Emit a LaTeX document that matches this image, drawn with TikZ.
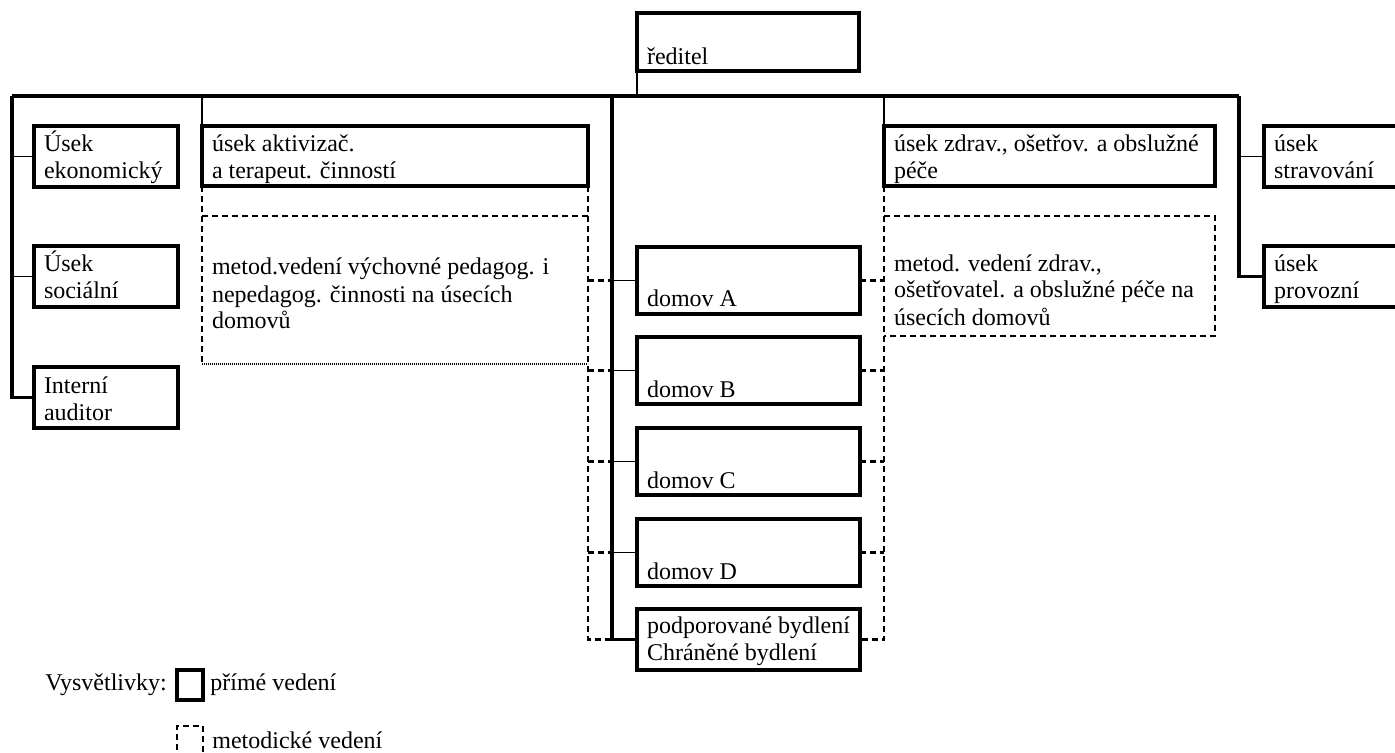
\documentclass[tikz,border=0pt]{standalone}
\usepackage{fontspec}
\setmainfont{Liberation Serif}
\usetikzlibrary{positioning}

% text set at the top or at the bottom of a box
\newcommand{\toptext}[4][13pt]{\parbox[c][#3][t]{#2}{\raggedright\rule{0pt}{#1}#4}}
\newcommand{\bottext}[4][3.5pt]{\parbox[c][#3][b]{#2}{\raggedright#4\rule[-#1]{0pt}{#1}}}

\begin{document}
\begin{tikzpicture}[x=0.5pt,y=-0.5pt,
	font=\fontsize{12}{13.5}\selectfont,
	box/.style={draw, line width=1.6pt, inner xsep=5pt, inner ysep=0pt, outer sep=0pt, anchor=north west},
	area/.style={box, draw=none},
	txt/.style={inner sep=0pt, anchor=base west},
	direct/.style={line width=1.6pt},
	link/.style={line width=0.8pt},
	method/.style={line width=1.2pt, dash pattern=on 3pt off 2pt},
	dotline/.style={line width=1.2pt, dash pattern=on 0.6pt off 0.4pt}]
	\useasboundingbox (0,0) rectangle (1395,753);
	
	\node[box] (red) at (637,13) {\bottext[3pt]{101pt}{26pt}{ředitel}};
	
	\node[box] (ekon) at (34,126) {\toptext{62pt}{30.5pt}{Úsek\\ekonomický}};
	\node[box] (soc) at (34,246) {\toptext{62pt}{30.5pt}{Úsek\\sociální}};
	\node[box] (audit) at (34,367) {\toptext{62pt}{30.5pt}{Interní\\auditor}};
	
	\node[box] (aktiv) at (202,126) {\toptext{183pt}{30pt}{úsek aktivizač.\\a terapeut. činností}};
	\node[area] (metL) at (202,216) {\toptext[29.5pt]{183pt}{74pt}{metod.vedení výchovné pedagog. i\\nepedagog. činnosti na úsecích\\domovů}};
	
	\node[box] (domA) at (637,247) {\bottext[4pt]{101.5pt}{29.5pt}{domov A}};
	\node[box] (domB) at (637,337) {\bottext{101.5pt}{30pt}{domov B}};
	\node[box] (domC) at (637,428) {\bottext{101.5pt}{30pt}{domov C}};
	\node[box] (domD) at (637,519) {\bottext{101.5pt}{30pt}{domov D}};
	\node[box] (podp) at (637,609) {\toptext[12pt]{101.5pt}{30.5pt}{podporované bydlení\\Chráněné bydlení}};
	
	\node[box] (zdrav) at (884,126) {\toptext{155.5pt}{30pt}{úsek zdrav., ošetřov. a obslužné\\péče}};
	\node[area] (metR) at (884,216) {\toptext[27.5pt]{155.5pt}{60pt}{metod. vedení zdrav.,\\ošetřovatel. a obslužné péče na\\úsecích domovů}};
	
	\node[box] (strav) at (1264,126) {\toptext{65pt}{30.5pt}{úsek\\stravování}};
	\node[box] (prov) at (1264,246) {\toptext{65pt}{30.5pt}{úsek\\provozní}};
	
	% legend
	\node[txt] (vysv) at (45,690) {Vysvětlivky:};
	\node[box, inner sep=0pt, minimum width=13pt, minimum height=15pt] (legS) at (177,670) {};
	\node[txt] (legStext) at (210,690) {přímé vedení};
	\node[box, method, inner sep=0pt, minimum width=13pt, minimum height=15pt] (legM) at (177,726) {};
	\node[txt] (legMtext) at (212,748) {metodické vedení};
	
	\coordinate (busL) at (12,96);
	\coordinate (busR) at (1239,96);
	\coordinate (spine) at (612,96);
	
	% direct lines
	\draw[direct] (busL) -- (busR);
	\draw[link] (red.south west) -- (red.south west |- busL);
	\draw[direct] (busL) |- (audit.west);
	\draw[link] (busL |- ekon.west) -- (ekon.west);
	\draw[link] (busL |- soc.west) -- (soc.west);
	\draw[link] (aktiv.north west) -- (aktiv.north west |- busL);
	\draw[direct] (spine) |- (podp.west);
	\draw[link] (spine |- domA.west) -- (domA.west);
	\draw[link] (spine |- domB.west) -- (domB.west);
	\draw[link] (spine |- domC.west) -- (domC.west);
	\draw[link] (spine |- domD.west) -- (domD.west);
	\draw[link] (zdrav.north west) -- (zdrav.north west |- busL);
	\draw[direct] (busR) |- (prov.west);
	\draw[link] (busR |- strav.west) -- (strav.west);
	
	% methodical lines, left
	\draw[method] (aktiv.south west) -- (metL.south west);
	\draw[method] (metL.north west) -- (metL.north east);
	\draw[dotline] (metL.south west) -- (metL.south east);
	\draw[method] (aktiv.south east) |- (spine |- podp.west);
	\draw[method] (aktiv.south east |- domA.west) -- (spine |- domA.west);
	\draw[method] (aktiv.south east |- domB.west) -- (spine |- domB.west);
	\draw[method] (aktiv.south east |- domC.west) -- (spine |- domC.west);
	\draw[method] (aktiv.south east |- domD.west) -- (spine |- domD.west);
	
	% methodical lines, right
	\draw[method] (zdrav.south west) |- (podp.east);
	\draw[method] (metR.north west) -- (metR.north east) -- (metR.south east) -- (metR.south west);
	\draw[method] (domA.east) -- (domA.east -| zdrav.west);
	\draw[method] (domB.east) -- (domB.east -| zdrav.west);
	\draw[method] (domC.east) -- (domC.east -| zdrav.west);
	\draw[method] (domD.east) -- (domD.east -| zdrav.west);
\end{tikzpicture}
\end{document}
